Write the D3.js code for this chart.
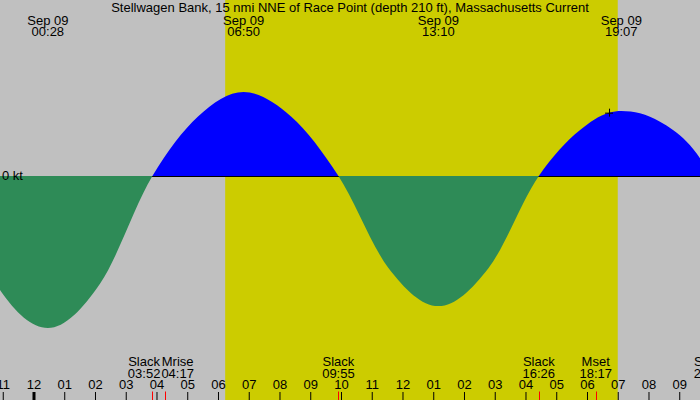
<!DOCTYPE html>
<html>
<head>
<meta charset="utf-8">
<script src="https://cdn.jsdelivr.net/npm/d3@7"></script>
<style>
  html, body { margin: 0; padding: 0; background: #c0c0c0; }
  svg { display: block; font-family: "Liberation Sans", Arial, sans-serif; }
</style>
</head>
<body>
<svg id="chart" width="700" height="400"></svg>
<script>
// ---- data ----
const titleText = "Stellwagen Bank, 15 nmi NNE of Race Point (depth 210 ft), Massachusetts Current";
const dayDate = "2024-09-09";
const dayLabel = "Sep 09";
const viewStart = "2024-09-08 22:54:38";
const viewEnd = "2024-09-09 21:40:30";
const sunriseTime = "06:14";
const sunsetTime = "19:00";
const extremaTimes = ["00:28", "06:50", "13:10", "19:07"];
const eventNames = ["Slack", "Mrise", "Slack", "Slack", "Mset", "Slack"];
const eventTimes = ["03:52", "04:17", "09:55", "16:26", "18:17", "22:00"];
// current readings, hours after Sep 09 00:00, knots (flood +, ebb -)
const curveHours = [-2.917, -2.0, -1.09, 0.467, 2.167, 3.867, 5.35, 6.833, 8.375, 9.917, 11.542, 13.167,
  14.8, 16.433, 17.775, 18.715, 19.117, 19.724, 20.374, 20.797, 21.242, 21.675, 22.0];
const curveKnots = [0, -0.374, -0.679, -0.905, -0.64, 0, 0.354, 0.5, 0.354, 0, -0.547, -0.774,
  -0.547, 0, 0.274, 0.377, 0.387, 0.373, 0.323, 0.274, 0.204, 0.105, 0];
const markTime = "18:43";
const markKnots = 0.377;
const zeroLabel = "0 kt";

// ---- setup ----
const W = 700, H = 400;
const svg = d3.select("#chart");
const parseFull = d3.timeParse("%Y-%m-%d %H:%M:%S");
const parseHM = s => d3.timeParse("%Y-%m-%d %H:%M")(dayDate + " " + s);
const base = parseHM("00:00");
const fromHours = h => new Date(base.getTime() + h * 3600000);

const x = d3.scaleTime().domain([parseFull(viewStart), parseFull(viewEnd)]).range([0, W]);
const y = d3.scaleLinear().domain([-1, 1]).range([344, 8]);
const y0 = y(0);

const font = 13;

// background
svg.append("rect").attr("x", 0).attr("y", 0).attr("width", W).attr("height", H).attr("fill", "#c0c0c0");
// daylight
svg.append("rect")
  .attr("x", x(parseHM(sunriseTime))).attr("y", 0)
  .attr("width", x(parseHM(sunsetTime)) - x(parseHM(sunriseTime))).attr("height", H)
  .attr("fill", "#cccc00");

const pts = curveHours.map((h, i) => ({ t: fromHours(h), v: curveKnots[i] }));

const defs = svg.append("defs");
defs.append("clipPath").attr("id", "above").append("rect")
  .attr("x", 0).attr("y", 0).attr("width", W).attr("height", y0);
defs.append("clipPath").attr("id", "below").append("rect")
  .attr("x", 0).attr("y", y0).attr("width", W).attr("height", H - y0);

const area = d3.area()
  .x(d => x(d.t)).y0(y0).y1(d => y(d.v))
  .curve(d3.curveMonotoneX);

svg.append("path").datum(pts).attr("d", area).attr("fill", "#0000ff").attr("clip-path", "url(#above)");
svg.append("line").attr("x1", 0).attr("x2", W).attr("y1", y0 + 0.5).attr("y2", y0 + 0.5)
  .attr("stroke", "#000").attr("stroke-width", 1);
svg.append("path").datum(pts).attr("d", area).attr("fill", "#2e8b57").attr("clip-path", "url(#below)");

// zero label
svg.append("text").attr("x", 2).attr("y", y0 + 4).attr("font-size", font).attr("fill", "#000").text(zeroLabel);

// plus marker
const mx = x(parseHM(markTime)), my = y(markKnots);
svg.append("path")
  .attr("d", `M${mx - 4},${my + 0.5}H${mx + 4}M${mx + 0.5},${my - 4}V${my + 4}`)
  .attr("stroke", "#000").attr("stroke-width", 1).attr("fill", "none");

// title
svg.append("text").attr("x", W / 2).attr("y", 12).attr("text-anchor", "middle")
  .attr("font-size", font).attr("fill", "#000").text(titleText);

// top extrema labels
extremaTimes.forEach(t => {
  const cx = x(parseHM(t));
  const g = svg.append("g").attr("font-size", font).attr("text-anchor", "middle").attr("fill", "#000");
  g.append("text").attr("x", cx).attr("y", 24.5).text(dayLabel);
  g.append("text").attr("x", cx).attr("y", 36).text(t);
});

// hour axis
const axis = d3.axisTop(x)
  .ticks(d3.timeHour.every(1))
  .tickFormat(d3.timeFormat("%I"))
  .tickSizeInner(8).tickSizeOuter(0).tickPadding(3);
const ax = svg.append("g").attr("transform", `translate(0,${H})`).call(axis);
ax.select(".domain").remove();
ax.attr("font-family", null).attr("font-size", null);
ax.selectAll("text").attr("font-size", font).attr("fill", "#000");
ax.selectAll(".tick line").attr("stroke", "#000")
  .filter(d => d.getHours() === 0).attr("stroke-width", 3);

// event ticks and labels
const evs = eventNames.map((n, i) => ({ name: n, time: eventTimes[i], cx: x(parseHM(eventTimes[i])) }));
svg.selectAll(".evtick").data(evs).enter().append("line")
  .attr("x1", d => Math.round(d.cx) + 0.5).attr("x2", d => Math.round(d.cx) + 0.5)
  .attr("y1", 391.5).attr("y2", H)
  .attr("stroke", "#ff0000").attr("stroke-width", 1);

const lg = svg.selectAll(".evlab").data(evs).enter().append("g")
  .attr("font-size", font).attr("text-anchor", "middle").attr("fill", "#000");
lg.append("text").attr("class", "n").attr("y", 366).text(d => d.name);
lg.append("text").attr("class", "t").attr("y", 377.5).text(d => d.time);
lg.each(function (d) {
  const g = d3.select(this);
  d.w = Math.max(g.select(".n").node().getComputedTextLength(), g.select(".t").node().getComputedTextLength());
  d.px = d.cx;
});
// resolve overlaps
for (let iter = 0; iter < 20; iter++) {
  for (let i = 1; i < evs.length; i++) {
    const a = evs[i - 1], b = evs[i];
    const overlap = (a.px + a.w / 2 + 1) - (b.px - b.w / 2);
    if (overlap > 0) { a.px -= overlap * 0.4; b.px += overlap * 0.6; }
  }
}
lg.selectAll("text").attr("x", function () { return d3.select(this.parentNode).datum().px; });
</script>
</body>
</html>
